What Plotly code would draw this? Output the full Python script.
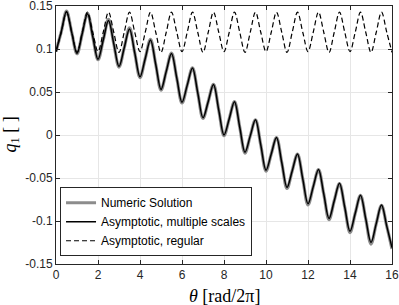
import plotly.graph_objects as go

theta = [i * 0.25 for i in range(65)]

q_multiple = [
    0.097, 0.120, 0.1437, 0.119, 0.0948, 0.118, 0.141, 0.1145,
    0.088, 0.1105, 0.133, 0.1063, 0.0797, 0.1015, 0.1234, 0.0955,
    0.0676, 0.089, 0.1105, 0.082, 0.053, 0.074, 0.0948, 0.0664,
    0.038, 0.058, 0.078, 0.049, 0.020, 0.039, 0.0587, 0.029,
    0.000, 0.019, 0.0388, 0.009, -0.020, -0.001, 0.0177, -0.0115,
    -0.041, -0.022, -0.003, -0.032, -0.061, -0.0415, -0.022, -0.051,
    -0.080, -0.060, -0.040, -0.0685, -0.097, -0.0765, -0.056, -0.084,
    -0.112, -0.091, -0.070, -0.0975, -0.125, -0.103, -0.0815, -0.106,
    -0.131,
]

q_numeric = [
    0.097, 0.120, 0.1440, 0.119, 0.0945, 0.118, 0.1415, 0.1145,
    0.0875, 0.1105, 0.1345, 0.1063, 0.0790, 0.1015, 0.1245, 0.0955,
    0.0668, 0.089, 0.1112, 0.082, 0.0522, 0.074, 0.0952, 0.0664,
    0.0372, 0.058, 0.0782, 0.049, 0.0192, 0.039, 0.0589, 0.029,
    -0.0008, 0.019, 0.0389, 0.009, -0.0210, -0.001, 0.0177, -0.0115,
    -0.0420, -0.022, -0.0031, -0.032, -0.0622, -0.0415, -0.0222, -0.051,
    -0.0812, -0.060, -0.0403, -0.0685, -0.0985, -0.0765, -0.0565, -0.084,
    -0.1135, -0.091, -0.0702, -0.0975, -0.1268, -0.103, -0.0818, -0.106,
    -0.1325,
]

q_regular = [
    0.097, 0.1195, 0.1428, 0.1195, 0.096, 0.1195, 0.1428, 0.1195,
] * 8 + [0.096]

x_ticks = [0, 2, 4, 6, 8, 10, 12, 14, 16]
y_ticks = [-0.15, -0.1, -0.05, 0, 0.05, 0.1, 0.15]
y_tick_labels = ["-0.15", "-0.1", "-0.05", "0", "0.05", "0.1", "0.15"]

fig = go.Figure()
fig.add_trace(go.Scatter(
    x=theta, y=q_numeric, mode="lines", name="Numeric Solution",
    line=dict(color="#8c8c8c", width=3.2, shape="spline", smoothing=1.0),
))
fig.add_trace(go.Scatter(
    x=theta, y=q_multiple, mode="lines", name="Asymptotic, multiple scales",
    line=dict(color="black", width=1.5, shape="spline", smoothing=1.0),
))
fig.add_trace(go.Scatter(
    x=theta, y=q_regular, mode="lines", name="Asymptotic, regular",
    line=dict(color="black", width=1.2, dash="5px,3px", shape="spline", smoothing=1.0),
))

axis_common = dict(
    showline=True, linecolor="#262626", linewidth=1, mirror="ticks",
    ticks="inside", ticklen=4, tickcolor="#262626",
    showgrid=True, gridcolor="#e6e6e6", gridwidth=1,
    zeroline=False, automargin=False, ticklabeloverflow="allow",
    tickfont=dict(family="Liberation Sans, Arial, sans-serif", size=12, color="#262626"),
)

serif = "Liberation Serif, DejaVu Serif, serif"

fig.update_layout(
    width=399, height=305,
    margin=dict(l=56, r=7, t=6, b=41),
    paper_bgcolor="white", plot_bgcolor="white",
    showlegend=True,
    legend=dict(
        x=0.012, y=0.03, xanchor="left", yanchor="bottom",
        bgcolor="white", bordercolor="#262626", borderwidth=1,
        font=dict(family="Liberation Sans, Arial, sans-serif", size=12, color="black"),
        tracegroupgap=0, itemwidth=30,
    ),
    xaxis=dict(range=[0, 16], tickvals=x_ticks, **axis_common),
    yaxis=dict(range=[-0.15, 0.15], tickvals=y_ticks, ticktext=y_tick_labels, **axis_common),
    annotations=[
        dict(text="<i>θ</i> [rad/2π]", xref="paper", yref="paper",
             x=0.5, y=0, yshift=-20, xanchor="center", yanchor="top", showarrow=False,
             font=dict(family=serif, size=18, color="black")),
        dict(text="<i>q</i><sub>1</sub> [ ]", xref="paper", yref="paper",
             x=0, y=0.5, xshift=-32, xanchor="right", yanchor="middle", showarrow=False,
             textangle=-90,
             font=dict(family=serif, size=18, color="black")),
    ],
)

fig.write_html("out.html", config={"displayModeBar": False},
               post_script="document.body.style.margin='0';")
